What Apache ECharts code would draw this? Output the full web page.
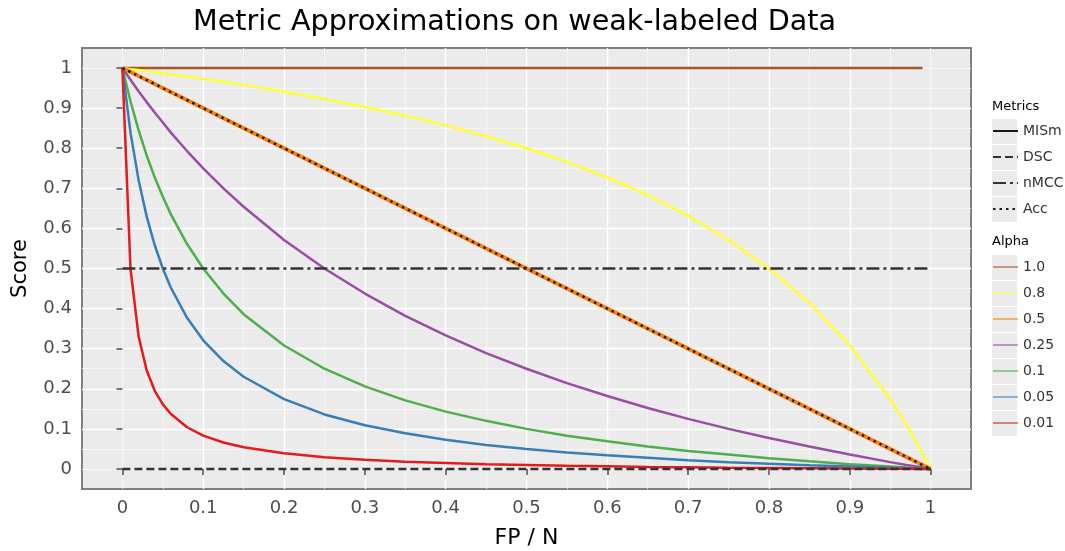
<!DOCTYPE html>
<html>
<head>
<meta charset="utf-8">
<script src="https://cdn.jsdelivr.net/npm/echarts@6/dist/echarts.min.js"></script>
<style>
  html, body { margin: 0; padding: 0; background: #fff; }
  #chart { width: 1065px; height: 551px; }
</style>
</head>
<body>
<div id="chart"></div>
<script>
// values
const xs = [0, 0.01, 0.02, 0.03, 0.04, 0.05, 0.06, 0.08, 0.1, 0.125, 0.15, 0.2, 0.25, 0.3, 0.35,
            0.4, 0.45, 0.5, 0.55, 0.6, 0.65, 0.7, 0.75, 0.8, 0.85, 0.9, 0.95, 0.97, 0.99, 1];

const alpha001 = [1, 0.5, 0.331, 0.246, 0.195, 0.161, 0.137, 0.104, 0.083, 0.066, 0.054, 0.039, 0.029, 0.023, 0.018,
                  0.015, 0.012, 0.010, 0.008, 0.007, 0.005, 0.004, 0.003, 0.0025, 0.0018, 0.0011, 0.0005, 0.0003, 0.0001, 0];
const alpha005 = [1, 0.839, 0.721, 0.630, 0.558, 0.5, 0.452, 0.377, 0.321, 0.269, 0.230, 0.174, 0.136, 0.109, 0.089,
                  0.073, 0.060, 0.05, 0.041, 0.034, 0.028, 0.022, 0.017, 0.013, 0.009, 0.006, 0.003, 0.0016, 0.0005, 0];
const alpha01  = [1, 0.917, 0.845, 0.782, 0.727, 0.679, 0.635, 0.561, 0.5, 0.4375, 0.386, 0.308, 0.25, 0.206, 0.171,
                  0.143, 0.120, 0.1, 0.083, 0.069, 0.056, 0.045, 0.036, 0.027, 0.019, 0.012, 0.006, 0.0034, 0.0011, 0];
const alpha025 = [1, 0.971, 0.942, 0.915, 0.889, 0.864, 0.839, 0.793, 0.75, 0.7, 0.654, 0.571, 0.5, 0.4375, 0.382,
                  0.333, 0.289, 0.25, 0.214, 0.182, 0.152, 0.125, 0.1, 0.077, 0.056, 0.036, 0.017, 0.010, 0.0034, 0];
const alpha08  = [1, 0.997, 0.995, 0.992, 0.990, 0.987, 0.984, 0.979, 0.973, 0.966, 0.958, 0.941, 0.923, 0.903, 0.881,
                  0.857, 0.830, 0.8, 0.766, 0.727, 0.683, 0.632, 0.571, 0.5, 0.414, 0.308, 0.174, 0.110, 0.039, 0];

const lineXs = [0, 1];
const alpha05 = [1, 0];
const accVals = [1, 0];
const dscVals = [0, 0];
const nmccVals = [0.5, 0.5];
const alpha10Xs = [0, 0.99];
const alpha10 = [1, 1];

const xTicks = [0, 0.1, 0.2, 0.3, 0.4, 0.5, 0.6, 0.7, 0.8, 0.9, 1];
const yTicks = [0, 0.1, 0.2, 0.3, 0.4, 0.5, 0.6, 0.7, 0.8, 0.9, 1];
const metricNames = ['MISm', 'DSC', 'nMCC', 'Acc'];
const alphaNames = ['1.0', '0.8', '0.5', '0.25', '0.1', '0.05', '0.01'];

const pairs = (x, y) => x.map((v, i) => [v, y[i]]);
const fmt = v => String(+(+v).toFixed(2));

const chart = echarts.init(document.getElementById('chart'));

const curve = (name, color, x, y, extra) => Object.assign({
    name: name,
    type: 'line',
    data: pairs(x, y),
    showSymbol: false,
    symbol: 'none',
    color: color,
    lineStyle: { color: color, width: 2.5 },
    emphasis: { disabled: true },
    animation: false,
    z: 2
}, extra || {});

// grey key backgrounds behind the legend entries
const keyBoxes = [];
metricNames.forEach((n, i) => keyBoxes.push({
    type: 'rect', left: 992, top: 119 + 26 * i, shape: { width: 25, height: 25 },
    style: { fill: '#EBEBEB' }, z: -1
}));
alphaNames.forEach((n, i) => keyBoxes.push({
    type: 'rect', left: 992, top: 255 + 26 * i, shape: { width: 25, height: 25 },
    style: { fill: '#EBEBEB' }, z: -1
}));

const axisCommon = {
    type: 'value',
    min: -0.05,
    max: 1.05,
    splitNumber: 11,
    axisLine: { show: false },
    axisTick: { show: true, length: 6, lineStyle: { color: '#4D4D4D', width: 1.5 } },
    axisLabel: { color: '#4D4D4D', fontSize: 18, fontFamily: 'DejaVu Sans', margin: 10, formatter: fmt },
    splitLine: { show: true, showMinLine: false, showMaxLine: false, lineStyle: { color: '#FFFFFF', width: 1.4 } },
    z: 1
};
const minorAxis = {
    type: 'value',
    min: -0.05,
    max: 1.05,
    interval: 0.05,
    axisLine: { show: false },
    axisTick: { show: false },
    axisLabel: { show: false },
    splitLine: { show: true, showMinLine: false, showMaxLine: false, lineStyle: { color: '#F7F7F7', width: 0.8 } },
    z: 0
};

const legendCommon = {
    orient: 'vertical', left: 992,
    itemWidth: 25, itemHeight: 25, itemGap: 6, selectedMode: false,
    itemStyle: { opacity: 0, borderWidth: 0 },
    textStyle: { fontFamily: 'DejaVu Sans', fontSize: 14, color: '#333' },
    padding: 0
};

chart.setOption({
    animation: false,
    backgroundColor: '#ffffff',
    title: {
        text: 'Metric Approximations on weak-labeled Data',
        left: 188,
        top: 3,
        textStyle: { fontFamily: 'DejaVu Sans', fontSize: 28.6, fontWeight: 'normal', color: '#000' }
    },
    grid: {
        left: 82, right: 94, top: 48, bottom: 62,
        outerBoundsMode: 'none',
        containLabel: false,
        show: true, backgroundColor: '#EBEBEB', borderColor: '#7F7F7F', borderWidth: 2
    },
    xAxis: [
        Object.assign({}, axisCommon, {
            name: 'FP / N', nameLocation: 'middle', nameGap: 38,
            nameTextStyle: { fontFamily: 'DejaVu Sans', fontSize: 22, color: '#000' },
            axisTick: Object.assign({}, axisCommon.axisTick, { customValues: xTicks }),
            axisLabel: Object.assign({}, axisCommon.axisLabel, { customValues: xTicks })
        }),
        minorAxis
    ],
    yAxis: [
        Object.assign({}, axisCommon, {
            name: 'Score', nameLocation: 'middle', nameGap: 51,
            nameTextStyle: { fontFamily: 'DejaVu Sans', fontSize: 21, color: '#000' },
            axisTick: Object.assign({}, axisCommon.axisTick, { customValues: yTicks }),
            axisLabel: Object.assign({}, axisCommon.axisLabel, { customValues: yTicks })
        }),
        minorAxis
    ],
    legend: [
        Object.assign({}, legendCommon, { data: metricNames, top: 121 }),
        Object.assign({}, legendCommon, { data: alphaNames, top: 257, lineStyle: { width: 2, opacity: 0.55 } })
    ],
    graphic: keyBoxes.concat([
        { type: 'text', left: 992, top: 100, style: { text: 'Metrics', font: '13px "DejaVu Sans"', fill: '#000' } },
        { type: 'text', left: 992, top: 235, style: { text: 'Alpha', font: '13px "DejaVu Sans"', fill: '#000' } }
    ]),
    series: [
        curve('1.0', '#A65628', alpha10Xs, alpha10),
        curve('0.8', '#FFFF33', xs, alpha08),
        curve('0.5', '#FF7F00', lineXs, alpha05, { lineStyle: { color: '#FF7F00', width: 4 } }),
        curve('0.25', '#984EA3', xs, alpha025),
        curve('0.1', '#4DAF4A', xs, alpha01),
        curve('0.05', '#377EB8', xs, alpha005),
        curve('0.01', '#E41A1C', xs, alpha001),
        curve('MISm', '#1A1A1A', [], []),
        curve('DSC', '#333333', lineXs, dscVals, { z: 3,
            lineStyle: { color: '#333333', width: 2.5, type: [8, 4] } }),
        curve('nMCC', '#333333', lineXs, nmccVals, { z: 3,
            lineStyle: { color: '#333333', width: 2.5, type: [13, 4, 3, 4] } }),
        curve('Acc', '#1A1A1A', lineXs, accVals, { z: 3,
            lineStyle: { color: '#1A1A1A', width: 2.5, type: [2.5, 4] } })
    ]
});
</script>
</body>
</html>
